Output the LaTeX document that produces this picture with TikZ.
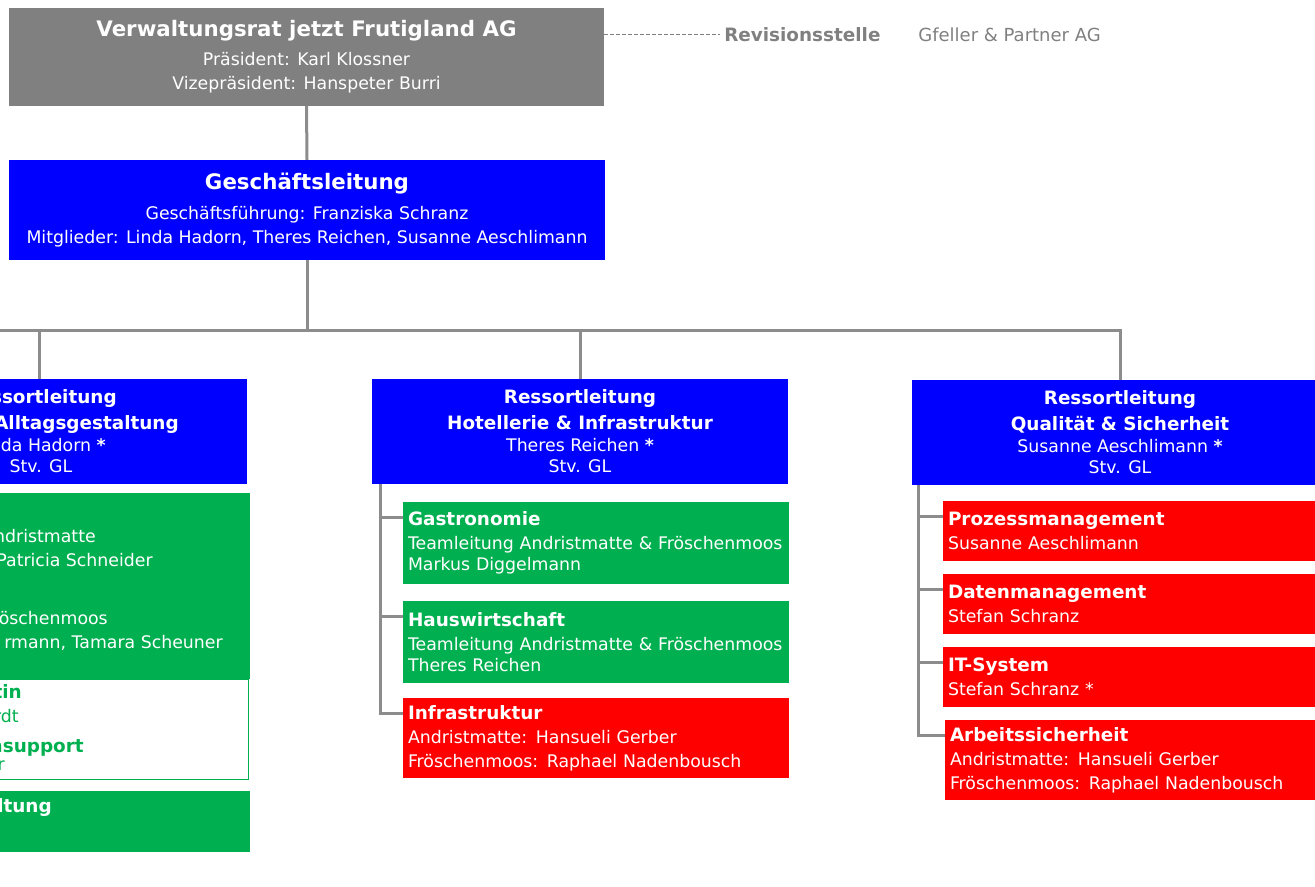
\documentclass[tikz,border=0pt]{standalone}
\usepackage{fontspec}
\setmainfont{DejaVu Sans}
\usepackage{tikz}
\usetikzlibrary{positioning}

\definecolor{vrgray}{HTML}{808080}
\definecolor{linegray}{HTML}{8C8C8C}
\definecolor{glblue}{HTML}{0000FF}
\definecolor{teamgreen}{HTML}{00B050}
\definecolor{alarmred}{HTML}{FF0000}

\newcommand{\txtbody}{\fontsize{13}{15.75}\selectfont}
\newcommand{\txttitle}{\fontsize{13.8}{15.75}\selectfont\bfseries}
\newcommand{\txtbig}{\fontsize{16}{18}\selectfont\bfseries}

\tikzstyle{block} = [inner sep=0pt, outer sep=0pt, anchor=north west, text=white, font=\txtbody]
\tikzstyle{head} = [block, align=center]
\tikzstyle{ressort} = [head, fill=glblue, minimum width=312pt, minimum height=78.75pt]
\tikzstyle{leaf} = [block, align=left, inner xsep=3.75pt, text width=282pt, minimum height=45pt]
\tikzstyle{frag} = [inner sep=0pt, text=white, font=\txtbody]
\tikzstyle{link} = [draw=linegray, line width=2.25pt]

\begin{document}
\begin{tikzpicture}[x=0.75pt, y=-0.75pt]
\useasboundingbox (0,0) rectangle (1315,887);
\clip (0,0) rectangle (1315,887);

% Verwaltungsrat, Revision
\node (vr) [head, fill=vrgray, minimum width=446.25pt, minimum height=73.5pt, font=\fontsize{13}{18}\selectfont] at (9,8)
	{{\txtbig Verwaltungsrat jetzt Frutigland AG}\\[3.75pt] Präsident: Karl Klossner\\ Vizepräsident: Hanspeter Burri};
\node (rev) [anchor=west, inner xsep=3pt, text=vrgray, font=\txttitle] at (720,35) {Revisionsstelle};
\node (firm) [base right=25pt of rev, inner xsep=0pt, text=vrgray, font=\fontsize{13.5}{16}\selectfont] {Gfeller \& Partner AG};
\draw [vrgray, line width=0.75pt, dash pattern=on 3pt off 1.5pt] (rev -| vr.east) -- (rev.west);

% Geschaeftsleitung
\node (gl) [head, fill=glblue, minimum width=447pt, minimum height=75pt, font=\fontsize{13}{18}\selectfont] at (9,160)
	{{\txtbig Geschäftsleitung}\\[4.5pt] Geschäftsführung: Franziska Schranz\\ Mitglieder: Linda Hadorn, Theres Reichen, Susanne Aeschlimann};

% Ressorts
\node (alltag) [ressort] at (-169,379) {};
\node (hotel) [ressort] at (372,379)
	{{\txttitle Ressortleitung}\\[3.75pt]{\txttitle Hotellerie \& Infrastruktur}\\[0.75pt] Theres Reichen {\bfseries *}\\ Stv. GL};
\node (qs) [ressort] at (912,380)
	{{\txttitle Ressortleitung}\\[3.75pt]{\txttitle Qualität \& Sicherheit}\\[0.75pt] Susanne Aeschlimann {\bfseries *}\\ Stv. GL};

% Alltagsgestaltung (links abgeschnitten)
\node (al-title) [frag, anchor=base east, font=\txttitle] at (117,404) {ssortleitung};
\node (al-name) [frag, anchor=base east, font=\txttitle] at (179,430) {Alltagsgestaltung};
\node (al-person) [frag, anchor=base east] at (106,452) {da Hadorn {\bfseries *}};
\node (al-stv) [frag, anchor=base] at (41,473) {Stv. GL};

\node (team) [block, fill=teamgreen, minimum width=289.5pt, minimum height=139.5pt] at (-136,493) {};
\node (team-a) [frag, anchor=base east] at (96,543) {ndristmatte};
\node (team-b) [frag, anchor=base east] at (153,567) {Patricia Schneider};
\node (team-c) [frag, anchor=base east] at (108,625) {röschenmoos};
\node (team-d) [frag, anchor=base east] at (223,649) {rmann, Tamara Scheuner};

\node (support) [block, fill=white, draw=teamgreen, line width=0.75pt, minimum width=289.5pt, minimum height=75pt] at (-138,680) {};
\node (sup-a) [frag, anchor=base east, text=teamgreen, font=\txttitle] at (22,699) {tin};
\node (sup-b) [frag, anchor=base east, text=teamgreen] at (19,723) {rdt};
\node (sup-c) [frag, anchor=base east, text=teamgreen, font=\txttitle] at (84,753) {nsupport};
\node (sup-d) [frag, anchor=base east, text=teamgreen] at (5,771) {r};

\node (lead) [block, fill=teamgreen, minimum width=289.5pt, minimum height=45.75pt] at (-136,791) {};
\node (lead-a) [frag, anchor=base east, font=\txttitle] at (52,812) {ltung};

% Hotellerie & Infrastruktur
\node (gastro) [leaf, fill=teamgreen, minimum height=61.5pt] at (403,502)
	{{\txttitle Gastronomie}\\[2.25pt] Teamleitung Andristmatte \& Fröschenmoos\\ Markus Diggelmann};
\node (haus) [leaf, fill=teamgreen, minimum height=61.5pt, below=12.75pt, anchor=north west] at (gastro.south west)
	{{\txttitle Hauswirtschaft}\\[2.25pt] Teamleitung Andristmatte \& Fröschenmoos\\ Theres Reichen};
\node (infra) [leaf, fill=alarmred, minimum height=60pt, below=11.25pt, anchor=north west] at (haus.south west)
	{{\txttitle Infrastruktur}\\[2.25pt] Andristmatte: Hansueli Gerber\\[2.25pt] Fröschenmoos: Raphael Nadenbousch};

% Qualitaet & Sicherheit
\node (prozess) [leaf, fill=alarmred] at (943,501)
	{{\txttitle Prozessmanagement}\\[2.25pt] Susanne Aeschlimann};
\node (daten) [leaf, fill=alarmred, below=9.75pt, anchor=north west] at (prozess.south west)
	{{\txttitle Datenmanagement}\\[2.25pt] Stefan Schranz};
\node (it) [leaf, fill=alarmred, below=9.75pt, anchor=north west] at (daten.south west)
	{{\txttitle IT-System}\\[2.25pt] Stefan Schranz *};
\node (arbeit) [leaf, fill=alarmred, minimum height=60pt, below=9.75pt, anchor=north west] at ([xshift=1.5pt]it.south west)
	{{\txttitle Arbeitssicherheit}\\[2.25pt] Andristmatte: Hansueli Gerber\\[2.25pt] Fröschenmoos: Raphael Nadenbousch};

% Linien
\draw [link] (vr.south) -- (gl.north);
\coordinate (barstart) at (-10,331);
\draw [link] (gl.south) -- (gl.south |- barstart);
\draw [link] (barstart) -| (qs.north);
\draw [link] (alltag.north) -- (alltag.north |- barstart);
\draw [link] (hotel.north) -- (hotel.north |- barstart);

\coordinate (hspine) at ([xshift=6pt]hotel.south west);
\foreach \leafname in {gastro, haus, infra}
	\coordinate (\leafname-tick) at ([yshift=-12pt]\leafname.north west);
\draw [link] (hspine) |- (infra-tick);
\foreach \leafname in {gastro, haus}
	\draw [link] (hspine |- \leafname-tick) -- (\leafname-tick);

\coordinate (qspine) at ([xshift=4.5pt]qs.south west);
\foreach \leafname in {prozess, daten, it, arbeit}
	\coordinate (\leafname-tick) at ([yshift=-12pt]\leafname.north west);
\draw [link] (qspine) |- (arbeit-tick);
\foreach \leafname in {prozess, daten, it}
	\draw [link] (qspine |- \leafname-tick) -- (\leafname-tick);
\end{tikzpicture}
\end{document}
